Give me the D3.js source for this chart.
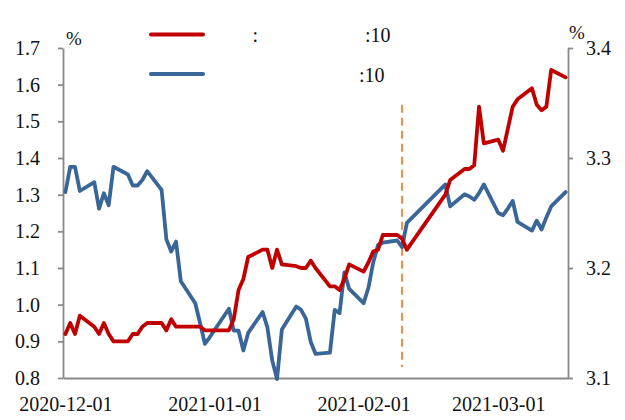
<!DOCTYPE html>
<html>
<head>
<meta charset="utf-8">
<script src="https://cdn.jsdelivr.net/npm/d3@7"></script>
<style>
  body { margin: 0; background: #fff; }
  svg { display: block; font-family: "Liberation Serif", "Times New Roman", serif; }
</style>
</head>
<body>
<div id="chart"></div>
<script>
// trading days shown on the chart
const dates = ["2020-12-01","2020-12-02","2020-12-03","2020-12-04","2020-12-07","2020-12-08","2020-12-09","2020-12-10","2020-12-11",
  "2020-12-14","2020-12-15","2020-12-16","2020-12-17","2020-12-18","2020-12-21","2020-12-22","2020-12-23","2020-12-24","2020-12-25",
  "2020-12-28","2020-12-29","2020-12-30","2020-12-31",
  "2021-01-04","2021-01-05","2021-01-06","2021-01-07","2021-01-08","2021-01-11","2021-01-12","2021-01-13","2021-01-14","2021-01-15",
  "2021-01-18","2021-01-19","2021-01-20","2021-01-21","2021-01-22","2021-01-25","2021-01-26","2021-01-27","2021-01-28","2021-01-29",
  "2021-02-01","2021-02-02","2021-02-03","2021-02-04","2021-02-05","2021-02-08","2021-02-09","2021-02-10",
  "2021-02-18","2021-02-19","2021-02-22","2021-02-23","2021-02-24","2021-02-25","2021-02-26",
  "2021-03-01","2021-03-02","2021-03-03","2021-03-04","2021-03-05","2021-03-08","2021-03-09","2021-03-10","2021-03-11","2021-03-12","2021-03-15"]

// red, left axis (%)
const redValues = [0.92,0.95,0.92,0.97,0.94,0.92,0.95,0.92,0.90,0.90,0.92,0.92,0.94,0.95,0.95,0.93,0.96,0.94,0.94,0.94,0.94,0.93,0.93,
  0.93,0.96,1.04,1.07,1.13,1.15,1.15,1.10,1.15,1.11,1.105,1.10,1.10,1.12,1.10,1.05,1.05,1.04,1.07,1.11,
  1.09,1.115,1.145,1.15,1.19,1.19,1.18,1.15,1.30,1.34,1.37,1.37,1.38,1.54,1.44,
  1.45,1.42,1.48,1.54,1.56,1.59,1.545,1.53,1.54,1.64,1.62]

// blue, right axis (%)
const blueValues = [3.269,3.292,3.292,3.270,3.278,3.254,3.268,3.257,3.292,3.285,3.275,3.275,3.280,3.288,3.271,3.226,3.215,3.224,3.188,3.168,3.150,3.131,3.137,
  3.163,3.143,3.143,3.125,3.141,3.160,3.146,3.116,3.099,3.144,3.165,3.162,3.154,3.133,3.122,3.123,3.162,3.159,3.196,3.181,
  3.168,3.182,3.205,3.221,3.223,3.225,3.219,3.241,3.276,3.256,3.267,3.265,3.262,3.268,3.276,
  3.250,3.248,3.254,3.261,3.242,3.234,3.243,3.235,3.246,3.256,3.269]

const monthTicks = ["2020-12-01","2021-01-01","2021-02-01","2021-03-01"]
const leftTicks = [0.8,0.9,1.0,1.1,1.2,1.3,1.4,1.5,1.6,1.7]
const rightTicks = [3.1,3.2,3.3,3.4]
const markerDate = "2021-02-09"
const markerSpan = [0.83, 1.545]   // dashed line extent, left axis units
const legendLabels = [[":", ":10"], ["", ":10"]]

const RED = "#C00000", BLUE = "#3A6597", AXIS = "#898989", ORANGE = "#F28C44"
const FONT = "'Liberation Serif', 'Times New Roman', serif"

const width = 625, height = 420
const plot = { left: 63, right: 568, top: 48, bottom: 378 }

const parse = d3.timeParse("%Y-%m-%d")
// each day sits in the middle of its slot
const mid = s => d3.timeHour.offset(parse(s), 12)

const svg = d3.select("#chart").append("svg")
    .attr("width", width)
    .attr("height", height)

svg.append("rect").attr("width", width).attr("height", height).attr("fill", "#fff")

const x = d3.scaleTime()
    .domain([parse("2020-12-01"), parse("2021-03-16")])
    .range([plot.left, plot.right])

const yL = d3.scaleLinear().domain([0.8, 1.7]).range([plot.bottom, plot.top])
const yR = d3.scaleLinear().domain([3.1, 3.4]).range([plot.bottom, plot.top])

// axes
const styleAxis = g => {
    g.attr("font-family", FONT)
    g.selectAll(".domain").attr("stroke", AXIS).attr("stroke-width", 1.8)
    g.selectAll(".tick line").attr("stroke", AXIS).attr("stroke-width", 1.8)
    g.selectAll("text").attr("fill", "#111").attr("font-size", 20).attr("font-family", FONT)
}

svg.append("g")
    .attr("transform", `translate(0,${plot.bottom})`)
    .call(d3.axisBottom(x).tickValues(monthTicks.map(mid)).tickFormat(d3.timeFormat("%Y-%m-%d"))
        .tickSize(0).tickPadding(19))
    .call(styleAxis)

svg.append("g")
    .attr("transform", `translate(${plot.left},0)`)
    .call(d3.axisLeft(yL).tickValues(leftTicks).tickFormat(d3.format(".1f"))
        .tickSize(5).tickSizeOuter(0).tickPadding(18))
    .call(styleAxis)

svg.append("g")
    .attr("transform", `translate(${plot.right},0)`)
    .call(d3.axisRight(yR).tickValues(rightTicks).tickFormat(d3.format(".1f"))
        .tickSize(5).tickSizeOuter(0).tickPadding(13))
    .call(styleAxis)

// units
svg.append("text").attr("x", 74).attr("y", 45).attr("text-anchor", "middle")
    .attr("font-size", 19).attr("fill", "#111").text("%")
svg.append("text").attr("x", 577).attr("y", 39).attr("text-anchor", "middle")
    .attr("font-size", 19).attr("fill", "#111").text("%")

// dashed marker
svg.append("line")
    .attr("x1", x(mid(markerDate))).attr("x2", x(mid(markerDate)))
    .attr("y1", yL(markerSpan[1])).attr("y2", yL(markerSpan[0]))
    .attr("stroke", ORANGE).attr("stroke-width", 2).attr("stroke-dasharray", "8,5")

// series
const blueLine = d3.line().x((d, i) => x(mid(dates[i]))).y(d => yR(d))
const redLine = d3.line().x((d, i) => x(mid(dates[i]))).y(d => yL(d))

svg.append("path").datum(blueValues)
    .attr("d", blueLine).attr("fill", "none").attr("stroke", BLUE)
    .attr("stroke-width", 3.8).attr("stroke-linejoin", "round").attr("stroke-linecap", "round")

svg.append("path").datum(redValues)
    .attr("d", redLine).attr("fill", "none").attr("stroke", RED)
    .attr("stroke-width", 3.8).attr("stroke-linejoin", "round").attr("stroke-linecap", "round")

// legend
const legend = svg.append("g")
const rows = [{ color: RED, y: 34.5, parts: legendLabels[0], offsets: [252.5, 365] },
              { color: BLUE, y: 74, parts: legendLabels[1], offsets: [252.5, 359] }]
rows.forEach(r => {
    legend.append("line").attr("x1", 151).attr("x2", 203).attr("y1", r.y).attr("y2", r.y)
        .attr("stroke", r.color).attr("stroke-width", 4).attr("stroke-linecap", "round")
    r.parts.forEach((t, i) => {
        if (!t) return
        legend.append("text").attr("x", r.offsets[i]).attr("y", r.y + 7.5)
            .attr("font-size", 20).attr("fill", "#111").text(t)
    })
})
</script>
</body>
</html>
